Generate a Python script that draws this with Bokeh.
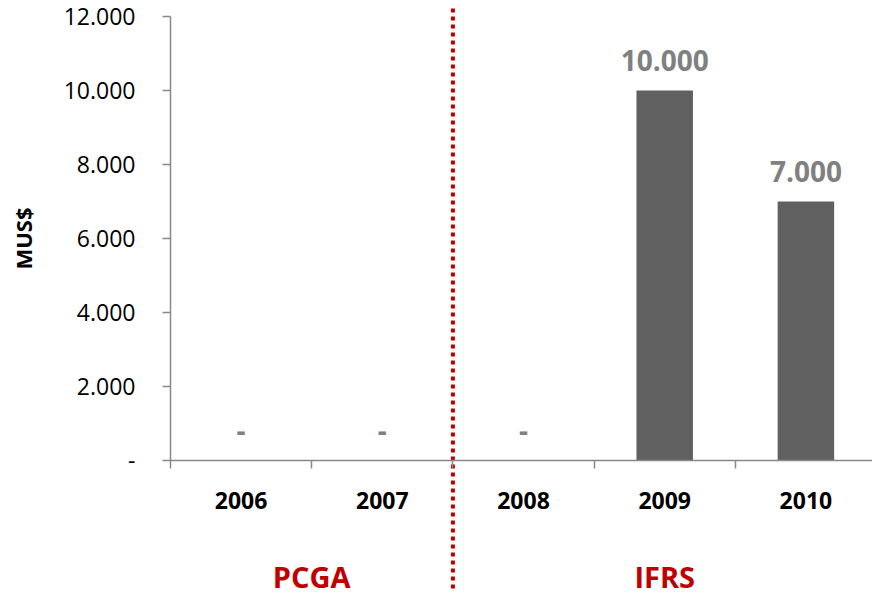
import math
from bokeh.plotting import figure
from bokeh.models import Range1d, FixedTicker, LinearAxis, ColumnDataSource
from bokeh.core.properties import value
from bokeh.embed import file_html
from bokeh.resources import INLINE

years = ["2006", "2007", "2008", "2009", "2010"]
values = [0, 0, 0, 10000, 7000]
value_labels = ["-", "-", "-", "10.000", "7.000"]
y_ticks = [0, 2000, 4000, 6000, 8000, 10000, 12000]
y_tick_labels = ["-", "2.000", "4.000", "6.000", "8.000", "10.000", "12.000"]
periods = ["PCGA", "IFRS"]
period_x = [0.5, 3.0]
period_y = -3130
divider_x = 1.5
divider_y = [12216, -3460]
y_title = "MUS$"

FONT = "Open Sans"
RED = "#C00000"
AXIS = "#898989"

xs = list(range(len(years)))
px_per_cat = 141.2
x_start = -0.5 - 170 / px_per_cat
W, H = 872, 596
x_end = x_start + W / px_per_cat
px_per_unit_y = 0.037
y_end = 12000 + 16 / px_per_unit_y
y_start = y_end - H / px_per_unit_y

p = figure(width=W, height=H, output_backend="svg", toolbar_location=None,
           x_range=Range1d(x_start, x_end), y_range=Range1d(y_start, y_end),
           x_axis_location=None, y_axis_location=None,
           min_border=0)
p.outline_line_color = None
p.grid.visible = False
p.background_fill_color = "white"

src = ColumnDataSource(dict(x=xs, top=values, lab=value_labels))
p.vbar(x="x", top="top", width=0.4, source=src, fill_color="#606060", line_color=None)
p.text(x="x", y="top", text="lab", source=src, text_font=value(FONT), text_font_size="28px",
       text_font_style="bold", text_color="#808080", text_align="center",
       text_baseline="alphabetic", y_offset=-30)

# y axis
ya = LinearAxis(fixed_location=-0.5, bounds=(0, 12000))
ya.ticker = FixedTicker(ticks=y_ticks)
ya.major_label_overrides = {t: l for t, l in zip(y_ticks, y_tick_labels)}
ya.axis_line_color = AXIS
ya.axis_line_width = 1.5
ya.major_tick_line_color = AXIS
ya.major_tick_line_width = 1.5
ya.major_tick_in = 0
ya.major_tick_out = 8
ya.minor_tick_line_color = None
ya.major_label_text_font = FONT
ya.major_label_text_font_size = "23px"
ya.major_label_text_color = "black"
ya.major_label_standoff = 27
p.add_layout(ya, "left")

# x axis
xa = LinearAxis(fixed_location=0, bounds=(-0.5, 4.5))
xa.ticker = FixedTicker(ticks=xs, minor_ticks=[i - 0.5 for i in range(len(years) + 1)])
xa.major_label_overrides = {i: y for i, y in enumerate(years)}
xa.axis_line_color = AXIS
xa.axis_line_width = 1.5
xa.major_tick_line_color = None
xa.major_tick_in = 0
xa.major_tick_out = 0
xa.minor_tick_line_color = AXIS
xa.minor_tick_line_width = 1.5
xa.minor_tick_in = 0
xa.minor_tick_out = 8
xa.major_label_text_font = FONT
xa.major_label_text_font_size = "23px"
xa.major_label_text_font_style = "bold"
xa.major_label_text_color = "black"
xa.major_label_standoff = 23
p.add_layout(xa, "below")

# dotted divider
p.segment(x0=[divider_x], y0=[divider_y[0]], x1=[divider_x], y1=[divider_y[1]],
          line_color=RED, line_width=4, line_dash="4 4")

p.text(x=period_x, y=[period_y] * len(periods), text=periods, text_font=value(FONT),
       text_font_size="29px", text_font_style="bold", text_color=RED,
       text_align="center", text_baseline="alphabetic")

# y title
p.text(x=[-0.5 - 148 / px_per_cat], y=[6000], text=[y_title], text_font=value(FONT),
       text_font_size="22px", text_font_style="bold", text_color="black",
       text_align="center", text_baseline="middle", angle=math.pi / 2)

open("out.html", "w").write(file_html(p, INLINE))
